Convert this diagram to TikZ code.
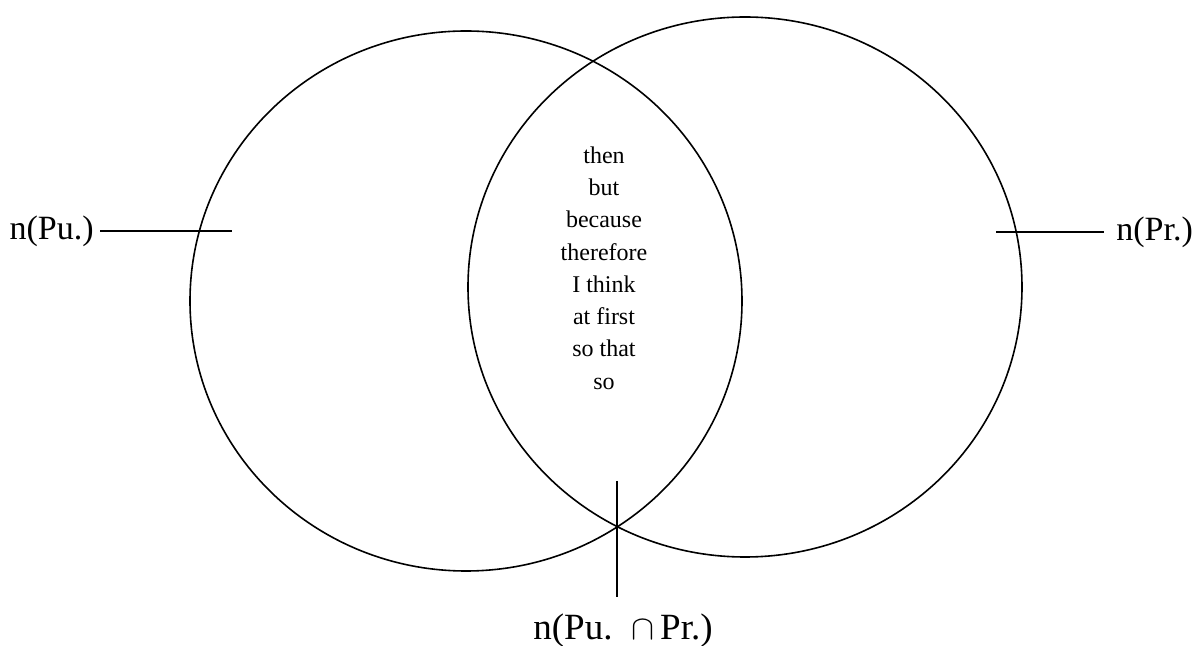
\documentclass[tikz,border=0pt]{standalone}
\usepackage{fontspec}
\setmainfont{Liberation Serif}
\usetikzlibrary{positioning}

\tikzset{
  setlabel/.style={font=\fontsize{17}{19}\selectfont, inner sep=3pt},
  wordlist/.style={font=\fontsize{12}{16.15}\selectfont, align=center},
  setline/.style={line width=0.8pt},
}

\begin{document}
\begin{tikzpicture}[x=0.5pt,y=-0.5pt]
  \useasboundingbox (0,0) rectangle (1196,646);

  %% the two sets
  \draw[setline] (466,301) ellipse [x radius=276, y radius=270];
  \draw[setline] (745,287) ellipse [x radius=277, y radius=270];

  %% words in the overlap
  \node[wordlist] (words) at (604,268) {then\\but\\because\\therefore\\I think\\at first\\so that\\so};

  %% left set label
  \node[setlabel, anchor=east] (pu) at (100,231) {n(Pu.)};
  \coordinate (pu end) at (232,231);
  \draw[setline] (pu) -- (pu end);

  %% right set label
  \node[setlabel, anchor=west, inner xsep=6pt] (pr) at (1104,232) {n(Pr.)};
  \coordinate (pr end) at (996,232);
  \draw[setline] (pr end) -- (pr);

  %% intersection label
  \node[setlabel, font=\fontsize{18.5}{20}\selectfont, anchor=north, inner ysep=8pt] (both) at (623,597) {n(Pu.\ \ $\cap$\,Pr.)};
  \coordinate (both top) at (617,481);
  \draw[setline] (both top) -- (both top |- both.north);
\end{tikzpicture}
\end{document}
